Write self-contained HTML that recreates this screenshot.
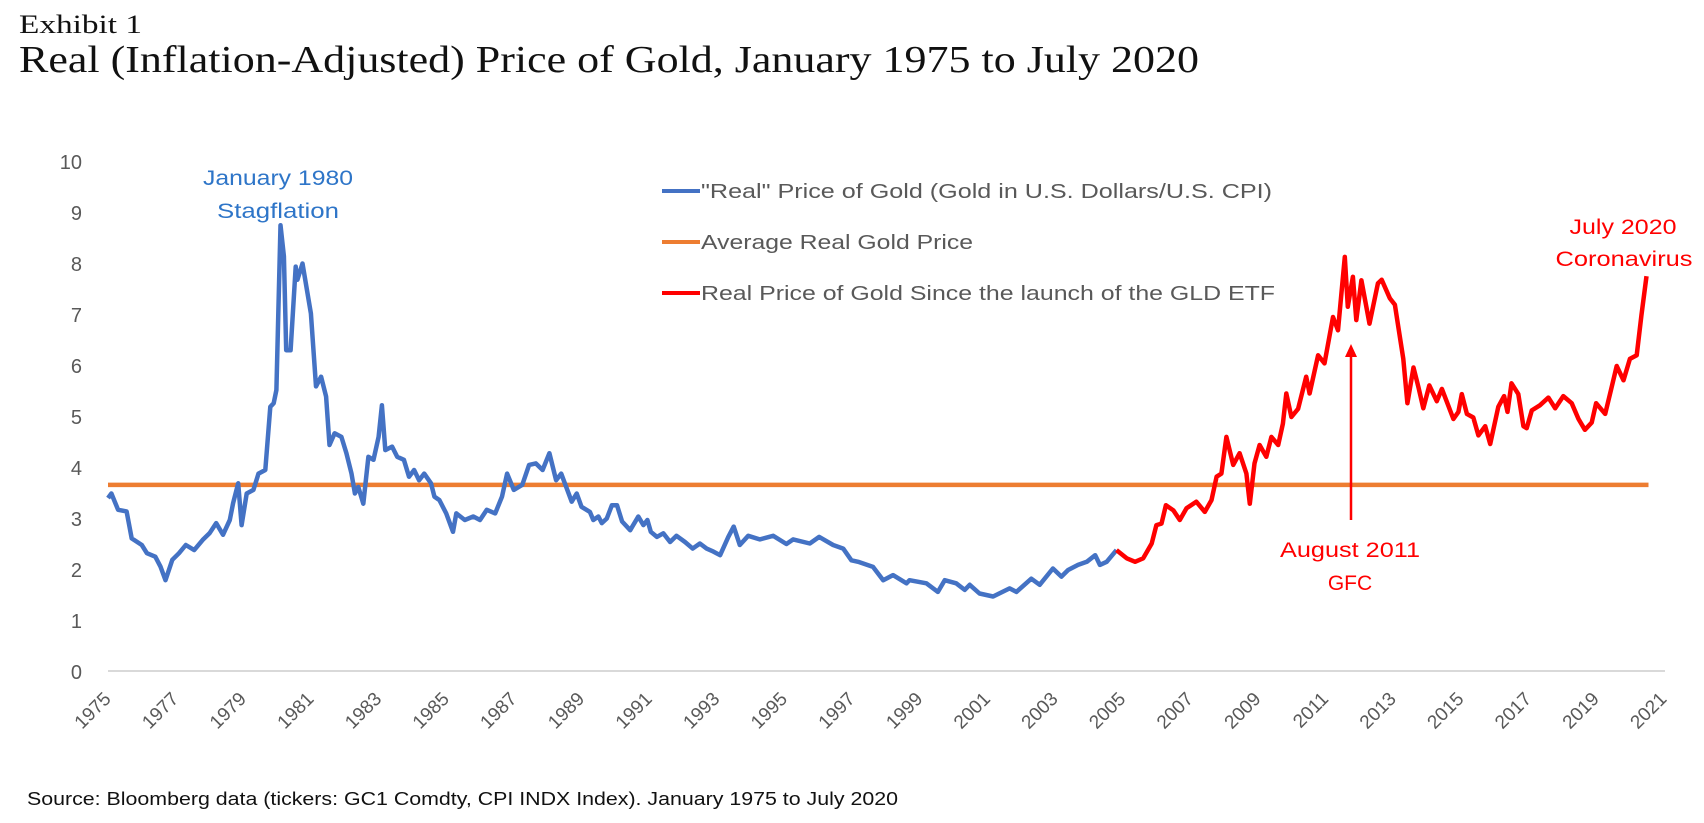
<!DOCTYPE html>
<html><head><meta charset="utf-8"><style>
html,body{margin:0;padding:0;background:#fff;}
svg{display:block;}
</style></head><body>
<svg id="chart" width="1704" height="823" viewBox="0 0 1704 823" xmlns="http://www.w3.org/2000/svg">
<text x="19" y="33" font-family="Liberation Serif, serif" font-size="26" fill="#111" textLength="123" lengthAdjust="spacingAndGlyphs">Exhibit 1</text>
<text x="19" y="72" font-family="Liberation Serif, serif" font-size="38" fill="#111" textLength="1180" lengthAdjust="spacingAndGlyphs">Real (Inflation-Adjusted) Price of Gold, January 1975 to July 2020</text>
<g id="yticks"></g>
<g id="xticks"></g>
<line x1="108" y1="671" x2="1665" y2="671" stroke="#D9D9D9" stroke-width="2"/>
<g id="series"></g>
<g font-family="Liberation Sans, sans-serif" font-size="20" fill="#595959">
<line x1="662" y1="191" x2="700" y2="191" stroke="#4472C4" stroke-width="4"/>
<text x="701" y="198" textLength="571" lengthAdjust="spacingAndGlyphs">"Real" Price of Gold (Gold in U.S. Dollars/U.S. CPI)</text>
<line x1="662" y1="242" x2="700" y2="242" stroke="#ED7D31" stroke-width="4"/>
<text x="701" y="249" textLength="272" lengthAdjust="spacingAndGlyphs">Average Real Gold Price</text>
<line x1="662" y1="293" x2="700" y2="293" stroke="#FF0000" stroke-width="4"/>
<text x="701" y="300" textLength="574" lengthAdjust="spacingAndGlyphs">Real Price of Gold Since the launch of the GLD ETF</text>
</g>
<g font-family="Liberation Sans, sans-serif" font-size="21" text-anchor="middle">
<text x="278" y="185" fill="#2E75C8" textLength="150" lengthAdjust="spacingAndGlyphs">January 1980</text>
<text x="278" y="218" fill="#2E75C8" textLength="122" lengthAdjust="spacingAndGlyphs">Stagflation</text>
<text x="1623" y="234" fill="#FF0000" textLength="107" lengthAdjust="spacingAndGlyphs">July 2020</text>
<text x="1624" y="266" fill="#FF0000" textLength="137" lengthAdjust="spacingAndGlyphs">Coronavirus</text>
<text x="1350" y="557" fill="#FF0000" textLength="140" lengthAdjust="spacingAndGlyphs">August 2011</text>
<text x="1350" y="590" fill="#FF0000">GFC</text>
</g>
<g>
<line x1="1351" y1="520" x2="1351" y2="355" stroke="#FF0000" stroke-width="2.5"/>
<polygon points="1345,357 1357,357 1351,344" fill="#FF0000"/>
</g>
<text x="27" y="805" font-family="Liberation Sans, sans-serif" font-size="18" fill="#111" textLength="871" lengthAdjust="spacingAndGlyphs">Source: Bloomberg data (tickers: GC1 Comdty, CPI INDX Index). January 1975 to July 2020</text>
</svg>
<script>
const realDates = [1975.0,1975.1,1975.3,1975.55,1975.7,1976.0,1976.15,1976.4,1976.55,1976.7,1976.9,1977.1,1977.3,1977.55,1977.8,1978.0,1978.2,1978.4,1978.6,1978.7,1978.85,1978.95,1979.1,1979.3,1979.45,1979.65,1979.8,1979.9,1979.98,1980.1,1980.2,1980.27,1980.4,1980.55,1980.6,1980.75,1981.0,1981.15,1981.3,1981.45,1981.55,1981.7,1981.9,1982.05,1982.2,1982.3,1982.4,1982.55,1982.7,1982.85,1983.0,1983.1,1983.2,1983.4,1983.55,1983.75,1983.9,1984.05,1984.2,1984.35,1984.55,1984.65,1984.8,1985.0,1985.2,1985.3,1985.55,1985.8,1986.0,1986.2,1986.45,1986.65,1986.8,1987.0,1987.25,1987.45,1987.65,1987.85,1988.05,1988.25,1988.4,1988.71,1988.86,1989.0,1989.25,1989.35,1989.5,1989.6,1989.75,1989.9,1990.05,1990.2,1990.44,1990.68,1990.83,1990.95,1991.05,1991.23,1991.42,1991.62,1991.81,1992.06,1992.29,1992.5,1992.7,1992.9,1993.1,1993.34,1993.5,1993.68,1993.93,1994.27,1994.67,1995.06,1995.26,1995.75,1996.03,1996.44,1996.74,1996.98,1997.18,1997.62,1997.92,1998.21,1998.61,1998.7,1999.2,1999.54,1999.74,2000.08,2000.33,2000.48,2000.77,2001.17,2001.66,2001.86,2002.3,2002.55,2002.94,2003.19,2003.39,2003.68,2003.94,2004.19,2004.33,2004.53,2004.82];
const realValues = [3.41,3.5,3.18,3.15,2.62,2.49,2.33,2.26,2.07,1.80,2.20,2.33,2.49,2.39,2.59,2.72,2.92,2.69,2.98,3.31,3.70,2.88,3.5,3.57,3.89,3.96,5.20,5.27,5.53,8.76,8.15,6.31,6.31,7.95,7.69,8.01,7.03,5.6,5.79,5.40,4.45,4.68,4.61,4.29,3.89,3.5,3.63,3.30,4.22,4.16,4.61,5.23,4.35,4.42,4.22,4.16,3.83,3.96,3.76,3.89,3.70,3.44,3.37,3.11,2.75,3.11,2.98,3.05,2.98,3.18,3.11,3.44,3.89,3.57,3.67,4.06,4.09,3.96,4.29,3.76,3.89,3.34,3.5,3.24,3.14,2.98,3.05,2.92,3.01,3.27,3.27,2.95,2.78,3.05,2.88,2.98,2.75,2.65,2.72,2.55,2.67,2.55,2.42,2.52,2.42,2.36,2.29,2.65,2.85,2.49,2.67,2.60,2.67,2.51,2.60,2.52,2.65,2.49,2.42,2.19,2.16,2.06,1.80,1.90,1.74,1.80,1.74,1.57,1.80,1.74,1.61,1.71,1.54,1.48,1.64,1.57,1.83,1.71,2.03,1.87,2.00,2.10,2.16,2.29,2.10,2.16,2.39];
const gldDates = [2004.82,2005.12,2005.37,2005.61,2005.86,2006.0,2006.15,2006.28,2006.5,2006.69,2006.89,2007.18,2007.43,2007.63,2007.78,2007.92,2008.07,2008.27,2008.46,2008.66,2008.76,2008.9,2009.05,2009.25,2009.4,2009.6,2009.74,2009.84,2009.99,2010.19,2010.43,2010.53,2010.78,2010.97,2011.22,2011.37,2011.57,2011.66,2011.81,2011.91,2012.06,2012.3,2012.55,2012.66,2012.9,2013.05,2013.15,2013.3,2013.42,2013.6,2013.75,2013.89,2014.07,2014.29,2014.44,2014.58,2014.78,2014.93,2015.03,2015.18,2015.37,2015.52,2015.72,2015.87,2015.96,2016.11,2016.28,2016.38,2016.5,2016.7,2016.85,2016.95,2017.1,2017.34,2017.59,2017.79,2018.03,2018.28,2018.48,2018.67,2018.87,2019.0,2019.27,2019.46,2019.61,2019.81,2020.0,2020.2,2020.34,2020.49];
const gldValues = [2.39,2.23,2.16,2.23,2.52,2.88,2.91,3.27,3.17,2.98,3.21,3.34,3.14,3.37,3.83,3.89,4.61,4.06,4.29,3.89,3.30,4.09,4.45,4.22,4.61,4.45,4.87,5.46,5.00,5.16,5.79,5.46,6.21,6.05,6.96,6.70,8.14,7.16,7.75,6.90,7.68,6.83,7.62,7.69,7.33,7.2,6.78,6.14,5.27,5.97,5.58,5.17,5.62,5.31,5.55,5.31,4.96,5.10,5.45,5.06,4.99,4.64,4.82,4.47,4.75,5.20,5.41,5.10,5.66,5.45,4.82,4.78,5.13,5.23,5.38,5.17,5.41,5.27,4.96,4.75,4.89,5.27,5.06,5.58,6.00,5.72,6.14,6.21,6.99,7.76];
const averageValue = [3.67];
const averageRange = [1975.0, 2020.55];
const yTickValues = [0,1,2,3,4,5,6,7,8,9,10];
const xTickYears = [1975,1977,1979,1981,1983,1985,1987,1989,1991,1993,1995,1997,1999,2001,2003,2005,2007,2009,2011,2013,2015,2017,2019,2021];

const NS = 'http://www.w3.org/2000/svg';
function xScale(yr){ return 108 + (yr - 1975) * 33.82; }
function yScale(v){ return 672 - v * 51; }
function mk(tag, attrs){ const e = document.createElementNS(NS, tag); for (const k in attrs) e.setAttribute(k, attrs[k]); return e; }

const yG = document.getElementById('yticks');
yTickValues.forEach(v => {
  const t = mk('text', {x: 82, y: yScale(v) + 7, 'text-anchor': 'end', 'font-family': 'Liberation Sans, sans-serif', 'font-size': 20, fill: '#595959'});
  
  
  t.textContent = v;
  yG.appendChild(t);
});
const xG = document.getElementById('xticks');
xTickYears.forEach(yr => {
  const x = xScale(yr) + 4, y = 700;
  const t = mk('text', {x: x, y: y, 'text-anchor': 'end', transform: 'rotate(-45 ' + x + ' ' + y + ')', 'font-family': 'Liberation Sans, sans-serif', 'font-size': 19, fill: '#595959'});
  
  
  t.textContent = yr;
  xG.appendChild(t);
});

const sG = document.getElementById('series');
const avg = mk('line', {x1: xScale(averageRange[0]), x2: xScale(averageRange[1]), y1: yScale(averageValue[0]), y2: yScale(averageValue[0]), stroke: '#ED7D31', 'stroke-width': 4.5});


sG.appendChild(avg);
function path(dates, vals){ return dates.map((d,i) => (i ? 'L' : 'M') + xScale(d).toFixed(1) + ' ' + yScale(vals[i]).toFixed(1)).join(' '); }
const blue = mk('path', {d: path(realDates, realValues), fill: 'none', stroke: '#4472C4', 'stroke-width': 4.5, 'stroke-linejoin': 'round'});


sG.appendChild(blue);
const red = mk('path', {d: path(gldDates, gldValues), fill: 'none', stroke: '#FF0000', 'stroke-width': 4.5, 'stroke-linejoin': 'round'});


sG.appendChild(red);
</script>
</body></html>
